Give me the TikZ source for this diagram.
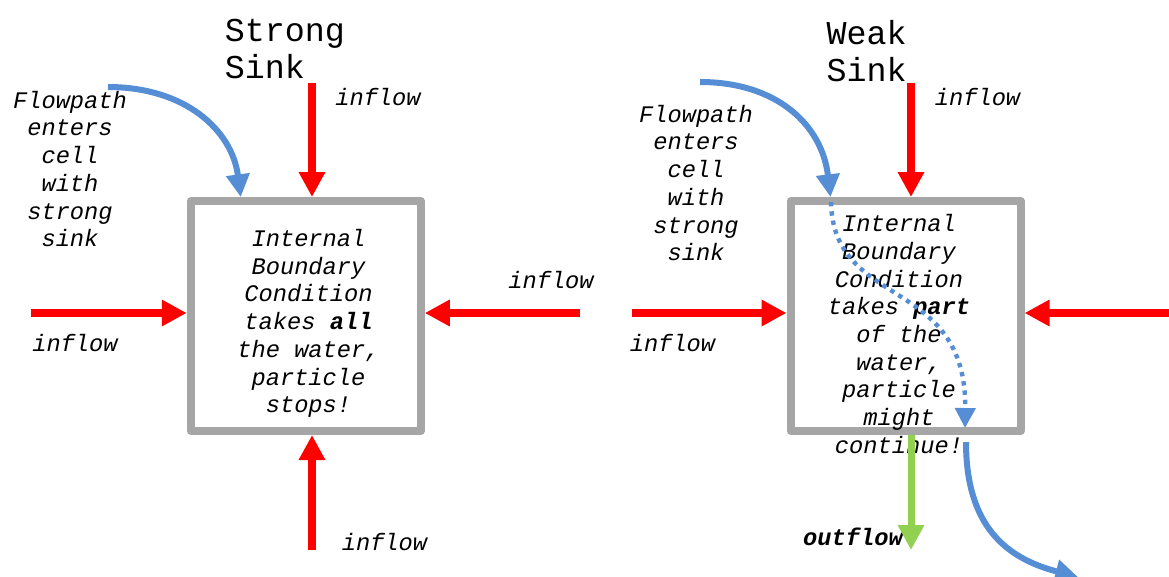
\documentclass[tikz,border=0pt]{standalone}
\usepackage{fontspec}
\setmonofont{Liberation Mono}
\usetikzlibrary{arrows.meta,calc}

\definecolor{inred}{HTML}{FF0000}
\definecolor{pathblue}{HTML}{558ED5}
\definecolor{outgreen}{HTML}{92D050}
\definecolor{cellgray}{HTML}{A6A6A6}

\tikzset{
  cell/.style={draw=cellgray, line width=6pt, minimum width=172.5pt, minimum height=172.5pt, inner sep=0pt},
  txt/.style={font=\fontsize{17.8}{20.8}\selectfont\ttfamily\itshape, align=center, inner sep=0pt},
  title/.style={font=\fontsize{25}{27.5}\selectfont\ttfamily, align=left, inner sep=0pt},
  inflow/.style={draw=inred, line width=6pt, -{Triangle[width=18.75pt,length=18.75pt]}},
  outflow/.style={draw=outgreen, line width=5.25pt, -{Triangle[width=18.75pt,length=18.75pt]}},
  flowpath/.style={draw=pathblue, line width=4.5pt, -{Triangle[width=17pt,length=17pt]}},
  dotpath/.style={draw=pathblue, line width=3.3pt, dash pattern=on 3.3pt off 3.7pt, -{Triangle[width=15pt,length=15pt]}}
}

\begin{document}
\begin{tikzpicture}[x=0.75pt, y=-0.75pt, line join=round]
\useasboundingbox (0,0) rectangle (1169,576);

% strong sink cell
\node[cell] (strong) at (305.75,316) {};
\node[title] (s-title) at (285,49) {Strong\\Sink};
\node[txt] (s-text) at (308.5,323.5) {Internal\\Boundary\\Condition\\takes \textbf{all}\\the water,\\particle\\stops!};
\node[txt] (s-flowtxt) at (70,169) {Flowpath\\enters\\cell\\with\\strong\\sink};

\coordinate (s-top) at (312,83);
\coordinate (s-left) at (31,313);
\coordinate (s-right) at (580,313);
\coordinate (s-bot) at (312,550);
\coordinate (s-flow) at (108,87);
\coordinate (s-enter) at ($(strong.north west)+(54,0)$);

\draw[inflow] (s-top) -- (s-top |- strong.north);
\draw[inflow] (s-left) -- (s-left -| strong.west);
\draw[inflow] (s-right) -- (s-right -| strong.east);
\draw[inflow] (s-bot) -- (s-bot |- strong.south);
\draw[flowpath] (s-flow) .. controls (185,87) and (232,130) .. (s-enter);

\node[txt] at (378,97) {inflow};
\node[txt] at (551,280) {inflow};
\node[txt] at (75,343) {inflow};
\node[txt] at (384.5,542) {inflow};

% weak sink cell
\node[cell] (weak) at (905.5,316) {};
\node[title] (w-title) at (866.5,51) {Weak\\Sink};
\node[txt] (w-text) at (899,334) {Internal\\Boundary\\Condition\\takes \textbf{part}\\of the\\water,\\particle\\might\\continue!};
\node[txt] (w-flowtxt) at (696,183) {Flowpath\\enters\\cell\\with\\strong\\sink};
\node[txt, font=\fontsize{17.8}{20.8}\selectfont\ttfamily\itshape\bfseries] (w-outtxt) at (853,537) {outflow};

\coordinate (w-top) at (911,83);
\coordinate (w-left) at (632,313);
\coordinate (w-right) at (1175,313);
\coordinate (w-out) at (911,550);
\coordinate (w-flow) at (700,82);
\coordinate (w-enter) at ($(weak.north west)+(44,0)$);
\coordinate (w-in) at (831,202);
\coordinate (w-stop) at (965,428);
\coordinate (w-leave) at (966,442);
\coordinate (w-end) at (1078,577);

\draw[inflow] (w-top) -- (w-top |- weak.north);
\draw[inflow] (w-left) -- (w-left -| weak.west);
\draw[inflow] (w-right) -- (w-right -| weak.east);
\draw[outflow] (w-out |- weak.south) -- (w-out);
\draw[flowpath] (w-flow) .. controls (777,82) and (822,125) .. (w-enter);
\draw[dotpath] (w-in) .. controls (833,310) and (967,275) .. (w-stop);
\draw[flowpath] (w-leave) .. controls (966,525) and (1005,558) .. (w-end);

\node[txt] at (977.5,97) {inflow};
\node[txt] at (672.5,343) {inflow};

\end{tikzpicture}
\end{document}
